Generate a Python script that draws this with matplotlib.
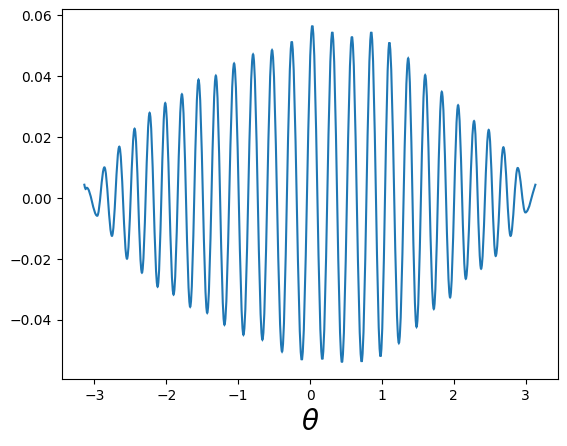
import numpy as np
import matplotlib
matplotlib.use("Agg")
import matplotlib.pyplot as plt
from matplotlib.path import Path
from matplotlib.patches import PathPatch

# turning points of the curve (theta, value)
theta = [-3.139, -3.122, -3.105, -2.960, -2.860, -2.755, -2.653, -2.546, -2.440,
         -2.338, -2.231, -2.120, -2.014, -1.898, -1.782, -1.667, -1.551, -1.430,
         -1.310, -1.190, -1.056, -0.926, -0.792, -0.662, -0.528, -0.389, -0.254,
         -0.115, 0.032, 0.171, 0.310, 0.444, 0.583, 0.718, 0.852, 0.981,
         1.104, 1.236, 1.366, 1.482, 1.602, 1.722, 1.833, 1.949, 2.060,
         2.167, 2.282, 2.380, 2.486, 2.583, 2.690, 2.790, 2.889, 2.996, 3.135]
value = [0.0044, 0.0030, 0.0034, -0.0058, 0.0101, -0.0124, 0.0169, -0.0199, 0.0228,
         -0.0245, 0.0280, -0.0291, 0.0312, -0.0317, 0.0341, -0.0357, 0.0389, -0.0377,
         0.0402, -0.0416, 0.0442, -0.0449, 0.0472, -0.0465, 0.0486, -0.0504, 0.0514,
         -0.0531, 0.0566, -0.0529, 0.0545, -0.0539, 0.0530, -0.0537, 0.0545, -0.0520,
         0.0511, -0.0476, 0.0459, -0.0423, 0.0404, -0.0364, 0.0349, -0.0326, 0.0305,
         -0.0265, 0.0253, -0.0232, 0.0224, -0.0190, 0.0167, -0.0124, 0.0099, -0.0047, 0.0044]


def smooth_path(x, y, k=0.363):
    # cubic segments with flat tangents at each turning point
    verts = [(x[0], y[0])]
    codes = [Path.MOVETO]
    n = len(x)
    for i in range(n - 1):
        dx = x[i + 1] - x[i]
        dy = y[i + 1] - y[i]
        if i == 0:
            c1 = (x[i] + dx / 3, y[i] + dy / 3)
        else:
            c1 = (x[i] + k * dx, y[i])
        if i == n - 2:
            c2 = (x[i + 1] - dx / 3, y[i + 1] - dy / 3)
        else:
            c2 = (x[i + 1] - k * dx, y[i + 1])
        verts += [c1, c2, (x[i + 1], y[i + 1])]
        codes += [Path.CURVE4] * 3
    return Path(verts, codes)


fig = plt.figure(figsize=(5.67, 4.46), dpi=100)
ax = fig.add_axes([0.109, 0.150, 0.875, 0.830])

patch = PathPatch(smooth_path(theta, value), facecolor='none',
                  edgecolor='tab:blue', linewidth=1.5, capstyle='projecting')
ax.add_patch(patch)

# same limits matplotlib would give with its default 5% margins
xr = max(theta) - min(theta)
yr = max(value) - min(value)
ax.set_xlim(min(theta) - 0.05 * xr, max(theta) + 0.05 * xr)
ax.set_ylim(min(value) - 0.05 * yr, max(value) + 0.05 * yr)
ax.set_xticks([-3, -2, -1, 0, 1, 2, 3])
ax.set_yticks([-0.04, -0.02, 0.0, 0.02, 0.04, 0.06])
ax.set_xlabel(r'$\theta$', fontsize=20)

fig.savefig('out.png', dpi=100)
